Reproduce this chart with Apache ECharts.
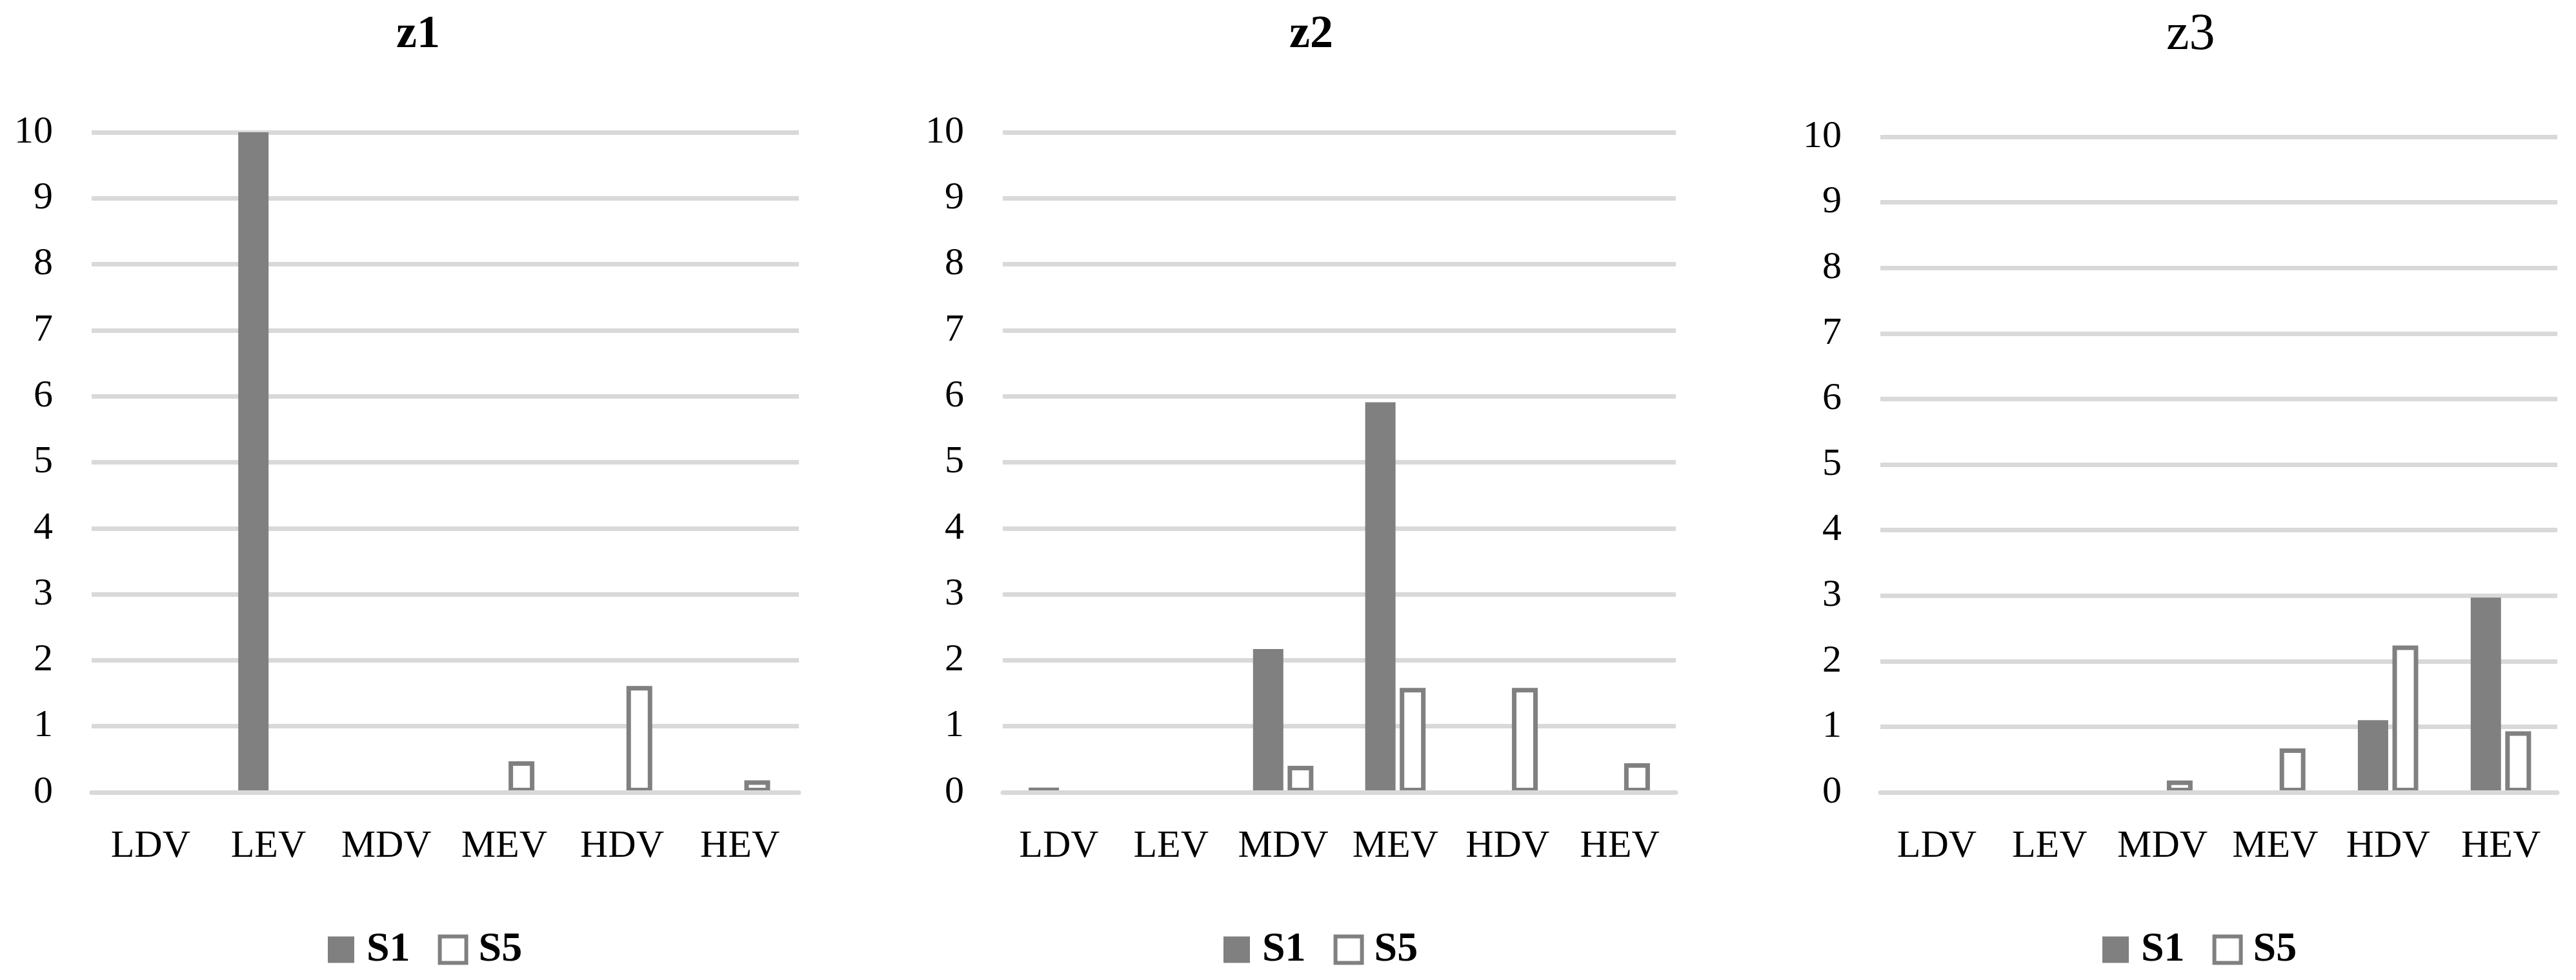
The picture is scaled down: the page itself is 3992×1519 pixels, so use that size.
<!DOCTYPE html>
<html>
<head>
<meta charset="utf-8">
<script src="https://cdn.jsdelivr.net/npm/echarts@6/dist/echarts.min.js"></script>
<style>
html,body{margin:0;padding:0;background:#fff;}
#c{width:3992px;height:1519px;}
</style>
</head>
<body>
<div id="c"></div>
<script>
var categories = ['LDV', 'LEV', 'MDV', 'MEV', 'HDV', 'HEV'];
var yTicks = [0, 1, 2, 3, 4, 5, 6, 7, 8, 9, 10];
var panelTitles = ['z1', 'z2', 'z3'];
var seriesNames = ['S1', 'S5'];

var z1S1 = [0, 10.0, 0, 0, 0, 0];
var z1S5 = [0, 0, 0, 0.47, 1.61, 0.18];
var z2S1 = [0.07, 0, 2.17, 5.91, 0, 0];
var z2S5 = [0, 0, 0.40, 1.58, 1.58, 0.44];
var z3S1 = [0, 0, 0, 0, 1.10, 2.97];
var z3S5 = [0, 0, 0.18, 0.67, 2.24, 0.93];

var S1 = [z1S1, z2S1, z3S1];
var S5 = [z1S5, z2S5, z3S5];

var FONT = "'Palatino Linotype','Book Antiqua',Palatino,'Liberation Serif',serif";
var GREY = '#808080';
var GRID = '#d9d9d9';

var grids = [
  {left: 142, width: 1096, top: 205, height: 1023},
  {left: 1554, width: 1043, top: 205, height: 1023},
  {left: 2914, width: 1049, top: 212, height: 1016}
];
var titlePos = [
  {left: 609, top: 13, bold: true, size: 72},
  {left: 1993, top: 13, bold: true, size: 72},
  {left: 3352, top: 10, bold: false, size: 80}
];
var legendLeft = [508, 1896, 3258];

var option = {
  animation: false,
  backgroundColor: '#ffffff',
  title: [], grid: [], xAxis: [], yAxis: [], legend: [], series: []
};

for (var i = 0; i < 3; i++) {
  option.title.push({
    text: panelTitles[i],
    left: titlePos[i].left, top: titlePos[i].top,
    textStyle: {fontFamily: FONT, fontSize: titlePos[i].size,
      fontWeight: titlePos[i].bold ? 'bold' : 'normal', color: '#000'}
  });
  option.grid.push(grids[i]);
  option.xAxis.push({
    type: 'category', gridIndex: i, data: categories, z: 3,
    axisTick: {show: false},
    axisLine: {show: true, lineStyle: {color: GRID, width: 7}},
    axisLabel: {interval: 0, fontFamily: FONT, fontSize: 60, color: '#000', margin: 54}
  });
  option.yAxis.push({
    type: 'value', gridIndex: i, min: yTicks[0], max: yTicks[yTicks.length - 1], interval: 1,
    axisLine: {show: false}, axisTick: {show: false},
    splitLine: {show: true, lineStyle: {color: GRID, width: 7}},
    axisLabel: {fontFamily: FONT, fontSize: 60, color: '#000', margin: 60}
  });
  option.legend.push({
    left: legendLeft[i], top: 1440, padding: 0,
    icon: 'rect', itemWidth: 41, itemHeight: 41, itemGap: 43,
    textStyle: {fontFamily: FONT, fontSize: 64, fontWeight: 'bold', color: '#000', padding: [0, 0, 0, 14]},
    data: [
      {name: seriesNames[0], itemStyle: {color: GREY, borderWidth: 0}},
      {name: seriesNames[1], itemStyle: {color: '#ffffff', borderColor: GREY, borderWidth: 6}}
    ]
  });
  option.series.push({
    name: seriesNames[0], type: 'bar', xAxisIndex: i, yAxisIndex: i,
    barWidth: 47, barGap: '14%',
    itemStyle: {color: GREY},
    data: S1[i].map(function (v) { return v === 0 ? '-' : v; })
  });
  option.series.push({
    name: seriesNames[1], type: 'bar', xAxisIndex: i, yAxisIndex: i,
    barWidth: 40, barGap: '14%',
    itemStyle: {color: '#ffffff', borderColor: GREY, borderWidth: 7},
    data: S5[i].map(function (v) { return v === 0 ? '-' : v; })
  });
}

var chart = echarts.init(document.getElementById('c'), null, {renderer: 'canvas'});
chart.setOption(option);
</script>
</body>
</html>
